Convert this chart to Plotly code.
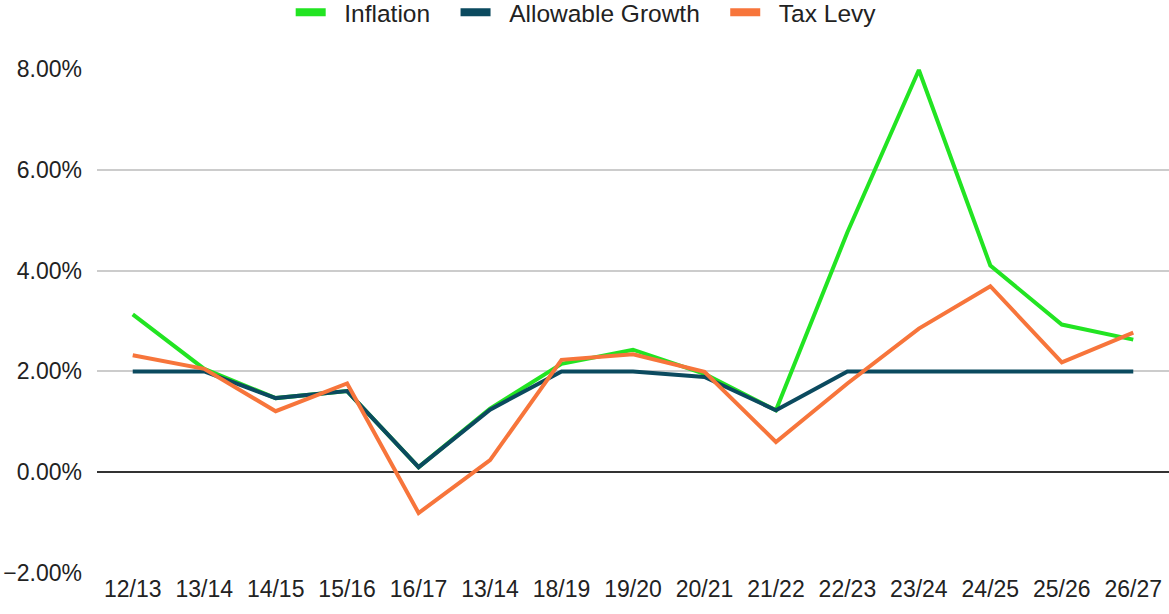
import plotly.graph_objects as go

years = ["12/13", "13/14", "14/15", "15/16", "16/17", "13/14", "18/19", "19/20",
         "20/21", "21/22", "22/23", "23/24", "24/25", "25/26", "26/27"]
inflation = [3.13, 2.05, 1.47, 1.61, 0.10, 1.26, 2.15, 2.43, 1.95, 1.23, 4.76, 7.98, 4.10, 2.93, 2.63]
allowable_growth = [2.00, 2.00, 1.47, 1.61, 0.10, 1.24, 2.00, 2.00, 1.89, 1.23, 2.00, 2.00, 2.00, 2.00, 2.00]
tax_levy = [2.32, 2.05, 1.21, 1.76, -0.81, 0.24, 2.23, 2.34, 1.99, 0.60, 1.76, 2.85, 3.69, 2.18, 2.77]

names = ["Inflation", "Allowable Growth", "Tax Levy"]
colors = ["#22e422", "#0b4a5f", "#f7753b"]
series = [inflation, allowable_growth, tax_levy]

# numeric x so the repeated "13/14" label stays a separate point
xs = list(range(len(years)))

fig = go.Figure()
for name, col, vals in zip(names, colors, series):
    fig.add_trace(go.Scatter(x=xs, y=[v / 100 for v in vals], mode="lines",
                             line=dict(color=col, width=4), showlegend=False,
                             hoverinfo="skip"))
# flat bar legend swatches, padded with nbsp for wider spacing
nb = "\u00a0"
for name, col in zip(names, colors):
    fig.add_trace(go.Scatter(x=[None], y=[None], mode="lines",
                             name=nb * 2 + name + nb * 3,
                             line=dict(color=col, width=8)))

font = "Liberation Sans, Arial, sans-serif"
fig.update_layout(
    width=1169, height=614,
    margin=dict(l=97, r=0, t=69, b=41),
    plot_bgcolor="white", paper_bgcolor="white",
    font=dict(family=font, size=23, color="#222222"),
    legend=dict(orientation="h", x=0.51, xanchor="center", y=0.98, yanchor="middle",
                yref="container", xref="container",
                font=dict(size=24.5), itemwidth=30, traceorder="normal"),
    xaxis=dict(range=[-0.5, len(years) - 0.5], tickvals=xs, ticktext=years,
               showgrid=False, zeroline=False, ticks="", ticklen=0,
               automargin=False),
    yaxis=dict(range=[-0.02, 0.08], tickvals=[-0.02, 0, 0.02, 0.04, 0.06, 0.08],
               tickformat=".2%", showgrid=True, gridcolor="#cccccc", gridwidth=1.5,
               zeroline=True, zerolinecolor="#333333", zerolinewidth=2,
               ticks="", ticklabelstandoff=14, automargin=False),
)

# drop the default page margin so the figure sits at the window corner
fig.write_html("out.html", config={"displayModeBar": False},
               post_script="document.body.style.margin='0';")
